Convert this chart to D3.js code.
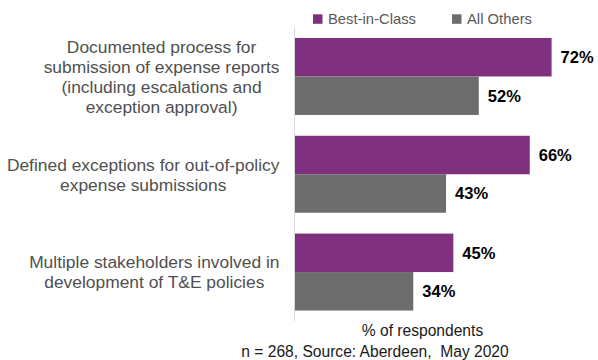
<!DOCTYPE html>
<html><head><meta charset="utf-8">
<script src="https://cdn.jsdelivr.net/npm/d3@7"></script>
<style>body{margin:0;background:#fff}svg{display:block}</style>
</head><body><svg id="c" width="598" height="360"></svg>
<script>
const categories = [
  ["Documented process for","submission of expense reports","(including escalations and","exception approval)"],
  ["Defined exceptions for out-of-policy","expense submissions"],
  ["Multiple stakeholders involved in","development of T&E policies"]
];
const seriesNames = ["Best-in-Class","All Others"];
const bestInClass = [72,66,45];
const allOthers = [52,43,34];
const colors = ["#7F307F","#6D6D6D"];

const svg = d3.select("#c");
const font = "Liberation Sans, Arial, Helvetica, sans-serif";
const ids = categories.map((c,i)=>i);
const y = d3.scaleBand().domain(ids).range([27.5,321]).paddingInner(0.213).paddingOuter(0.107);
const x = d3.scaleLinear().domain([1.5,100]).range([295,653.5]);
const sub = d3.scaleBand().domain([0,1]).range([0,y.bandwidth()]);
const series = [bestInClass, allOthers];

// axis line
svg.append("line").attr("x1",294.5).attr("x2",294.5).attr("y1",y.range()[0]).attr("y2",y.range()[1])
  .attr("stroke","#D9D9D9").attr("stroke-width",1);

series.forEach((vals,s)=>{
  svg.append("g").selectAll("rect").data(vals).join("rect")
    .attr("x",x(1.5)).attr("y",(d,i)=>y(i)+sub(s)).attr("width",d=>x(d)-x(1.5)).attr("height",sub.bandwidth())
    .attr("fill",colors[s]);
  svg.append("g").selectAll("text").data(vals).join("text")
    .attr("x",d=>x(d)+9).attr("y",(d,i)=>y(i)+sub(s)+sub.bandwidth()/2).attr("dy","0.36em")
    .attr("font-family",font).attr("font-size",16.5).attr("font-weight","bold").attr("fill","#000")
    .text(d=>d+"%");
});

// category labels
categories.forEach((lines,i)=>{
  const g = svg.append("g");
  const cy = y(i)+y.bandwidth()/2;
  const lh = 20;
  const ts = lines.map((l,k)=>g.append("text").attr("y",cy+(k-(lines.length-1)/2)*lh).attr("dy","0.36em")
    .attr("font-family",font).attr("font-size",17.4).attr("fill","#505050").attr("text-anchor","middle").text(l));
  const maxW = d3.max(ts, t=>t.node().getComputedTextLength());
  ts.forEach(t=>t.attr("x",279.5-maxW/2));
});

// legend
const lx = [313,452];
seriesNames.forEach((n,s)=>{
  svg.append("rect").attr("x",lx[s]).attr("y",14.3).attr("width",9.5).attr("height",9.5).attr("fill",colors[s]);
  svg.append("text").attr("x",lx[s]+15).attr("y",19).attr("dy","0.36em").attr("font-family",font)
    .attr("font-size",14.8).attr("fill","#595959").text(n);
});

svg.append("text").attr("x",422.5).attr("y",330).attr("dy","0.36em").attr("text-anchor","middle")
  .attr("font-family",font).attr("font-size",15.6).attr("fill","#1a1a1a").text("% of respondents");
svg.append("text").attr("x",375).attr("y",351.5).attr("dy","0.36em").attr("text-anchor","middle")
  .attr("font-family",font).attr("font-size",15.6).attr("fill","#1a1a1a").attr("xml:space","preserve").style("white-space","pre")
  .text("n = 268, Source: Aberdeen,  May 2020");
</script></body></html>
